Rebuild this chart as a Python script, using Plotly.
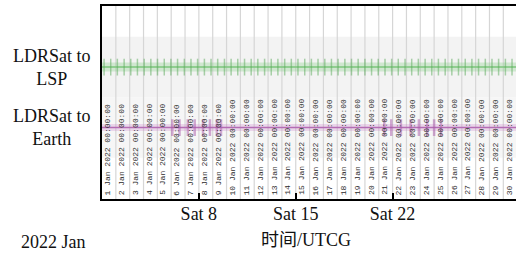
import plotly.graph_objects as go
import pandas as pd

# ---------------- data ----------------
x_start = "2022-01-01 00:00"
x_end = "2022-01-30 22:00"
day_numbers = list(range(1, 31))
date_labels = [f"{d} Jan 2022 00:00:00" for d in day_numbers]
row_labels = ["LDRSat to<br>Earth", "LDRSat to<br>LSP"]
row_values = [0, 1]
week_tick_dates = ["2022-01-08", "2022-01-15", "2022-01-22"]
week_tick_labels = ["Sat 8", "Sat 15", "Sat 22"]
# event marks (days after 1 Jan 00:00)
lsp_event_days = [0.15, 0.63, 1.11, 1.60, 2.08, 2.56, 3.05, 3.53, 4.01, 4.50,
                  4.98, 5.46, 5.95, 6.43, 6.91, 7.40, 7.88, 8.36, 8.85, 9.33,
                  9.81, 10.30, 10.78, 11.26, 11.75, 12.23, 12.71, 13.20, 13.68, 14.16,
                  14.65, 15.13, 15.61, 16.10, 16.58, 17.06, 17.55, 18.03, 18.51, 19.00,
                  19.48, 19.96, 20.45, 20.93, 21.41, 21.90, 22.38, 22.86, 23.35, 23.83,
                  24.31, 24.80, 25.28, 25.76, 26.25, 26.73, 27.21, 27.70, 28.18, 28.66,
                  29.15, 29.63]
earth_event_days = [5.08, 5.6, 6.2, 6.7, 7.3, 7.8, 8.3, 8.6,
                    20.4, 20.9, 21.6, 22.3, 22.9, 23.5, 24.0, 24.5]

t0 = pd.Timestamp(x_start)
def to_dt(days):
    return [t0 + pd.Timedelta(days=d) for d in days]

day_dates = [t0 + pd.Timedelta(days=d - 1) for d in day_numbers]

GREEN = "#7cc67c"
PURPLE = "#b46cb4"
FONT = "Liberation Serif, Times New Roman, Noto Sans CJK SC, serif"

fig = go.Figure()

# LSP access line (glow + core + marks)
fig.add_trace(go.Scatter(x=[x_start, x_end], y=[row_values[1]] * 2, mode="lines",
                         line=dict(color="rgba(120,200,120,0.28)", width=9),
                         hoverinfo="skip", showlegend=False))
fig.add_trace(go.Scatter(x=[x_start, x_end], y=[row_values[1]] * 2, mode="lines",
                         line=dict(color=GREEN, width=1.5), showlegend=False))
fig.add_trace(go.Scatter(x=to_dt(lsp_event_days), y=[row_values[1]] * len(lsp_event_days),
                         mode="markers",
                         marker=dict(symbol="line-ns", size=12,
                                     line=dict(color="rgba(90,170,90,0.5)", width=1.5)),
                         showlegend=False))

# Earth access line
fig.add_trace(go.Scatter(x=[x_start, x_end], y=[row_values[0]] * 2, mode="lines",
                         line=dict(color="rgba(200,120,200,0.25)", width=7),
                         hoverinfo="skip", showlegend=False))
fig.add_trace(go.Scatter(x=[x_start, x_end], y=[row_values[0]] * 2, mode="lines",
                         line=dict(color=PURPLE, width=1.5), showlegend=False))
fig.add_trace(go.Scatter(x=to_dt(earth_event_days), y=[row_values[0]] * len(earth_event_days),
                         mode="markers",
                         marker=dict(symbol="line-ns", size=12,
                                     line=dict(color="rgba(170,90,170,0.5)", width=2.5)),
                         showlegend=False))

shapes = []
# row bands
shapes.append(dict(type="rect", xref="paper", yref="y", x0=0, x1=1,
                   y0=row_values[1] - 0.5, y1=row_values[1] + 0.5,
                   fillcolor="#f3f3f3", line=dict(width=0), layer="below"))
shapes.append(dict(type="rect", xref="paper", yref="y", x0=0, x1=1,
                   y0=row_values[0] - 0.5, y1=row_values[0] + 0.5,
                   fillcolor="#f6f6f6", line=dict(width=0), layer="below"))
# day grid lines
for d in day_dates[1:]:
    shapes.append(dict(type="line", xref="x", yref="paper", x0=d, x1=d, y0=0, y1=1,
                       line=dict(color="#d6d6d6", width=1.2), layer="below"))

annotations = []
for d, lab in zip(day_dates, date_labels):
    annotations.append(dict(x=d + pd.Timedelta(hours=10), y=-1.15, xref="x", yref="y",
                            text=lab, textangle=-90, showarrow=False,
                            xanchor="center", yanchor="bottom",
                            font=dict(family="Liberation Mono, monospace", size=8, color="#2a2a2a")))
for v, lab in zip(row_values, row_labels):
    annotations.append(dict(x=-0.121, y=v, xref="paper", yref="y", text=lab,
                            showarrow=False, align="center", xanchor="center", yanchor="middle",
                            font=dict(family=FONT, size=18, color="#111111")))
annotations.append(dict(x=-0.116, y=-0.222, xref="paper", yref="paper", text="2022 Jan",
                        showarrow=False, xanchor="center", yanchor="middle",
                        font=dict(family=FONT, size=18, color="#111111")))
annotations.append(dict(x=0.493, y=-0.212, xref="paper", yref="paper", text="时间/UTCG",
                        showarrow=False, xanchor="center", yanchor="middle",
                        font=dict(family=FONT, size=18, color="#111111")))

fig.update_layout(
    width=516, height=253,
    margin=dict(l=102, r=0, t=6, b=54),
    paper_bgcolor="white", plot_bgcolor="white",
    shapes=shapes, annotations=annotations,
    showlegend=False,
    xaxis=dict(type="date", range=[x_start, x_end],
               tickmode="array", tickvals=week_tick_dates, ticktext=week_tick_labels,
               ticks="inside", ticklen=6, tickcolor="black", tickwidth=1.5,
               ticklabelstandoff=-2,
               showgrid=False, zeroline=False,
               showline=True, linecolor="black", linewidth=1.5, mirror=True,
               tickfont=dict(family=FONT, size=18, color="#111111")),
    yaxis=dict(range=[-1.18, 2.01], showticklabels=False, ticks="",
               showgrid=False, zeroline=False,
               showline=True, linecolor="black", linewidth=1.5),
)

fig.write_html("out.html", config={"displayModeBar": False},
               post_script="document.body.style.margin='0px';")
